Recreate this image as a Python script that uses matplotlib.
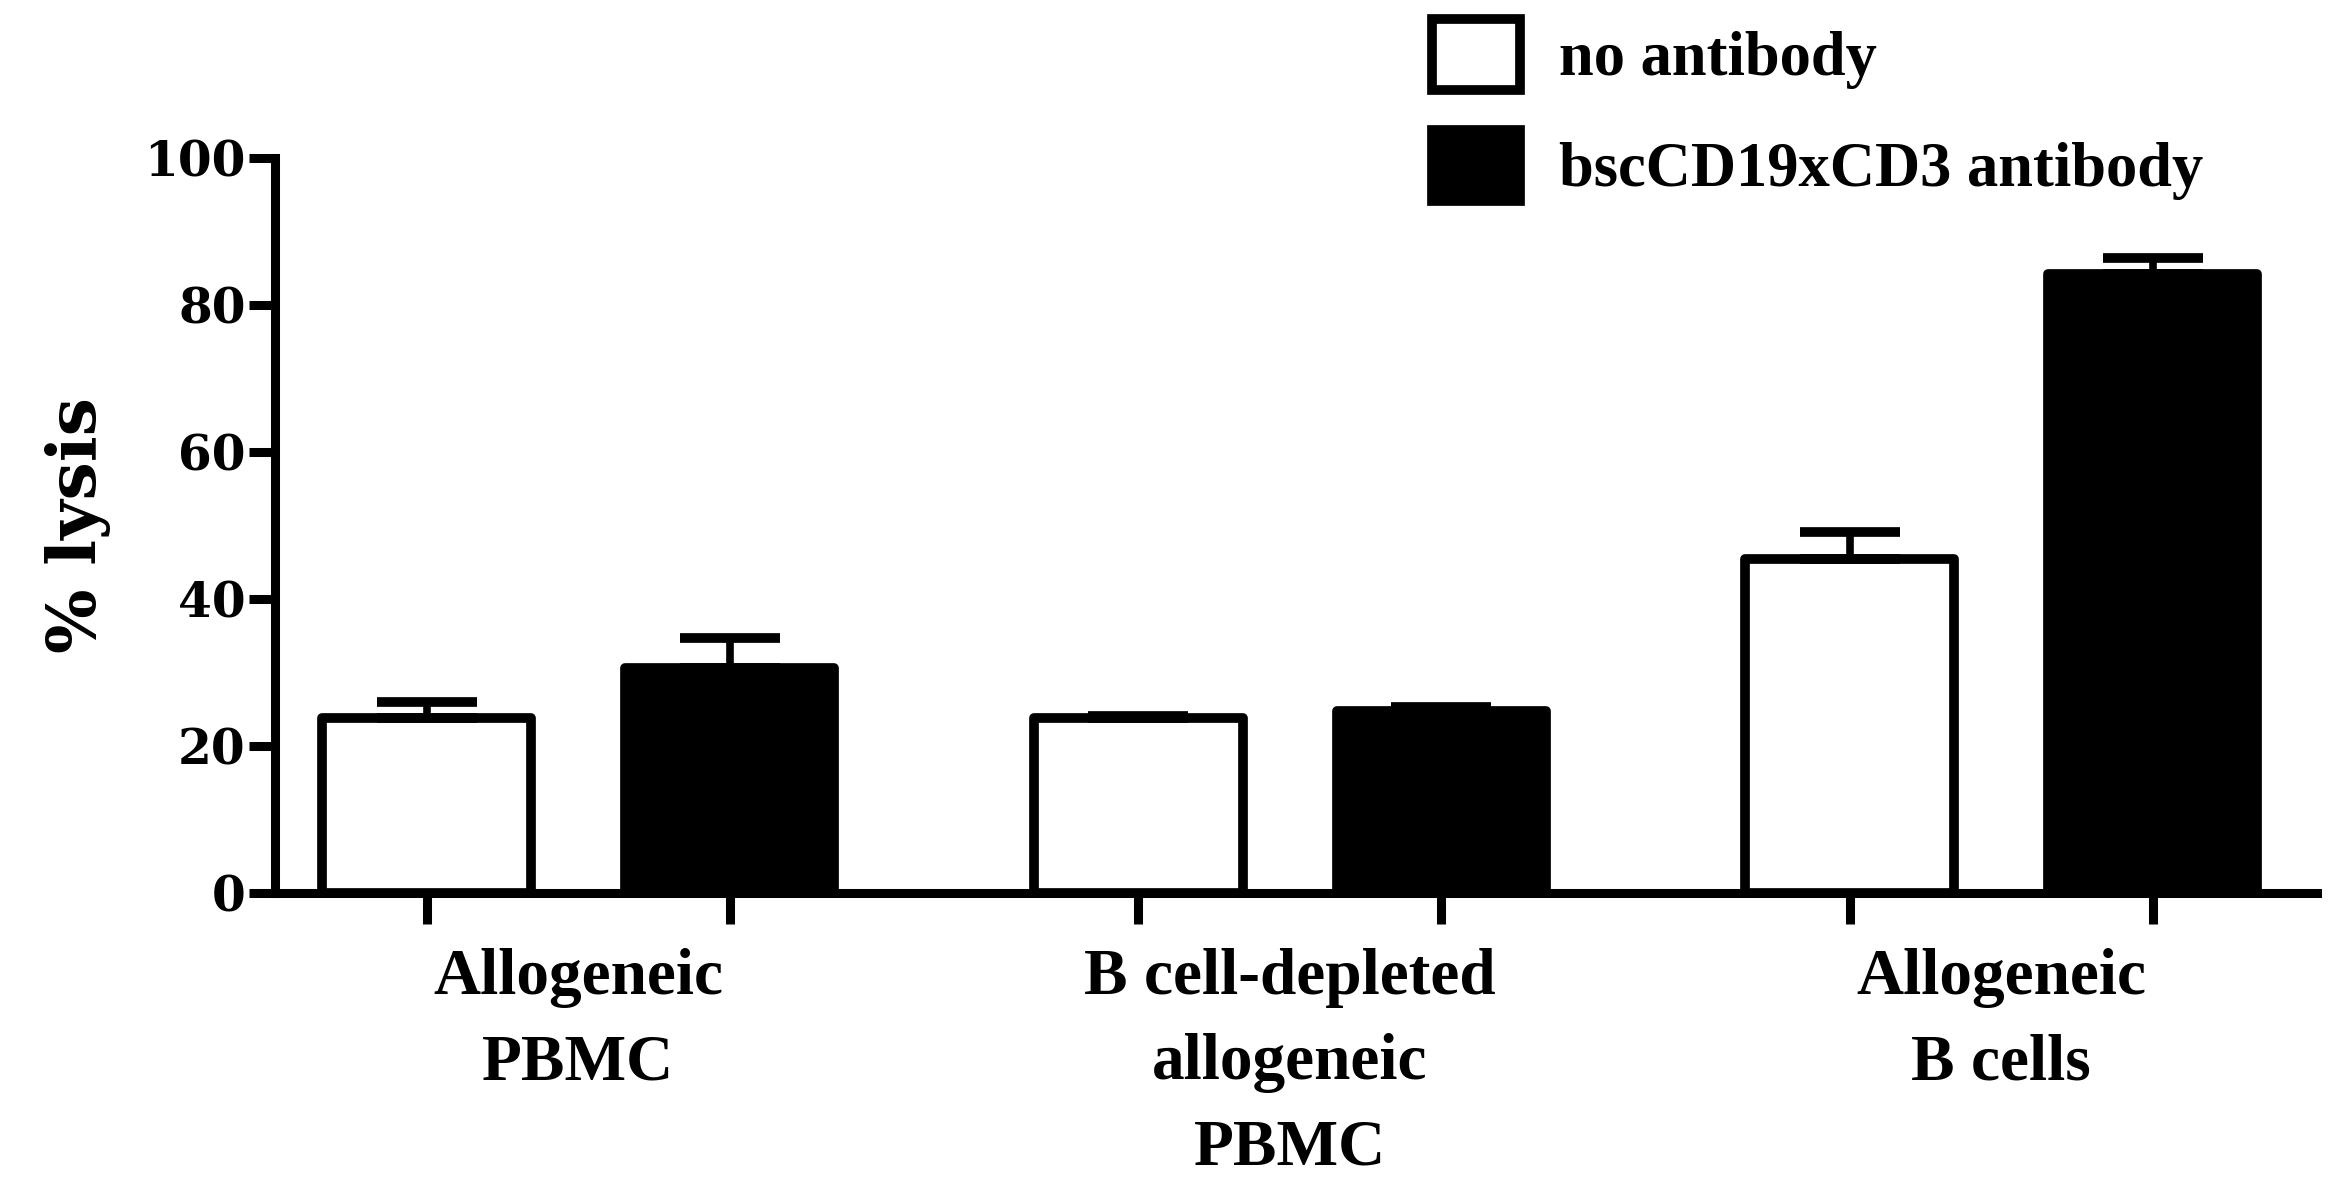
import numpy as np
import matplotlib
matplotlib.use('Agg')
import matplotlib.pyplot as plt

# data
groups = ['Allogeneic\nPBMC', 'B cell-depleted\nallogeneic\nPBMC', 'Allogeneic\nB cells']
no_ab = [23.7, 23.7, 45.4]
no_ab_err = [2.3, 0.4, 3.7]
bsc = [30.6, 24.7, 84.2]
bsc_err = [4.1, 0.5, 2.2]
series_names = ['no antibody', 'bscCD19xCD3 antibody']
yticks = [0, 20, 40, 60, 80, 100]

fig = plt.figure(figsize=(23.4, 11.9), dpi=100)
ax = fig.add_axes([0.1175, 0.25, 0.8725, 0.617])

x = np.arange(len(groups))
off = 0.2128
w = 0.2935
lw = 7

ekw = dict(elinewidth=5.5, capthick=7, capsize=36, ecolor='black')
b1 = ax.bar(x - off, no_ab, w, color='white', edgecolor='black', linewidth=lw,
            yerr=[np.zeros(3), no_ab_err], error_kw=ekw, label=series_names[0], zorder=3)
b2 = ax.bar(x + off, bsc, w, color='black', edgecolor='black', linewidth=lw,
            yerr=[np.zeros(3), bsc_err], error_kw=ekw, label=series_names[1], zorder=3)
for b in list(b1) + list(b2):
    b.set_joinstyle('round')

ax.set_xlim(-0.426, 2.443)
ax.set_ylim(0, 100)
ax.set_yticks(yticks)
ax.set_xticks(np.concatenate([x - off, x + off]))
ax.set_xticklabels([])

for s in ['top', 'right']:
    ax.spines[s].set_visible(False)
for s in ['left', 'bottom']:
    ax.spines[s].set_linewidth(6.5)
ax.tick_params(axis='y', length=19, width=6.5, pad=2)
ax.tick_params(axis='x', length=22, width=6.5)
for t in ax.get_yticklabels():
    t.set_family('DejaVu Serif')
    t.set_weight('bold')
    t.set_fontsize(35)

# category labels under each group
for xi, g in zip(x, groups):
    ax.annotate(g, xy=(xi, 0), xycoords=('data', 'axes fraction'),
                xytext=(0, -40), textcoords='offset points',
                ha='center', va='top', fontsize=47, fontweight='bold',
                family='Liberation Serif', linespacing=1.55)

ax.set_ylabel('% lysis', family='DejaVu Serif', fontweight='bold', fontsize=49, labelpad=24)

leg = ax.legend(loc='upper left', bbox_to_anchor=(0.612, 0.984), bbox_transform=fig.transFigure,
                frameon=False, prop={'family': 'Liberation Serif', 'weight': 'bold', 'size': 45},
                handlelength=1.41, handleheight=1.36, handletextpad=0.62, labelspacing=0.65,
                borderpad=0, borderaxespad=0)

fig.savefig('out.png', dpi=100)
